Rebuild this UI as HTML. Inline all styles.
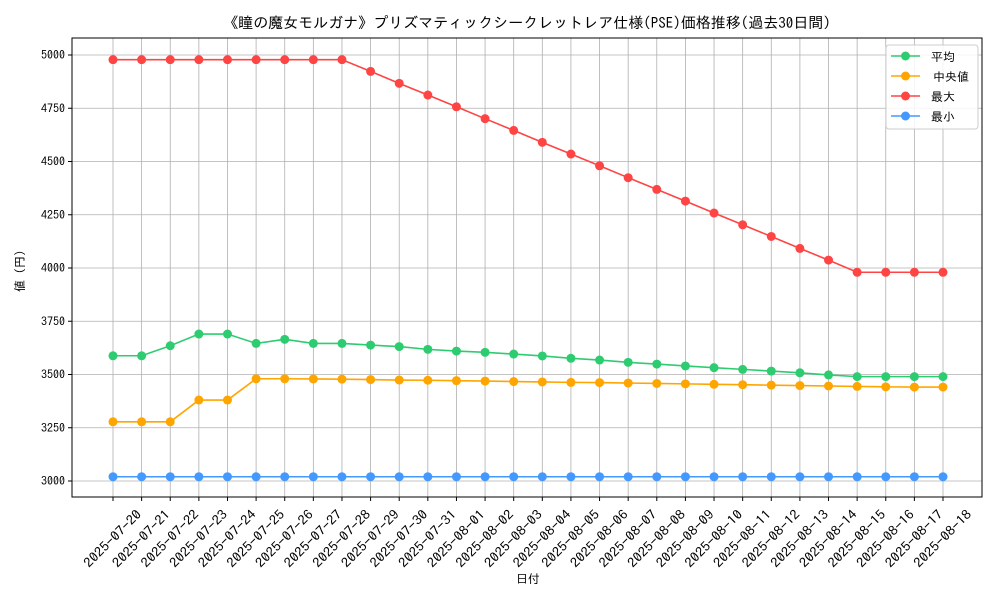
<!DOCTYPE html>
<html><head><meta charset="utf-8"><style>
body{margin:0;background:#fff;}
svg text{font-family:"IPAGothic","Noto Sans CJK JP",sans-serif;fill:#000;}
</style></head><body>
<svg id="chart" width="1000" height="600" xmlns="http://www.w3.org/2000/svg">
<text x="527" y="28" font-size="15" text-anchor="middle">《瞳の魔女モルガナ》プリズマティックシークレットレア仕様(PSE)価格推移(過去30日間)</text>
<g id="grid"></g>
<g id="axes"></g>
<g id="series"></g>
<text x="528" y="583" font-size="12" text-anchor="middle">日付</text>
<text transform="translate(24,268) rotate(-90)" font-size="12" text-anchor="middle">値（円）</text>
<g id="legend"></g>
</svg>
<script>
const dates=[];{const d=new Date(Date.UTC(2025,6,20));for(let i=0;i<30;i++){const t=new Date(d.getTime()+i*864e5);dates.push(t.toISOString().slice(0,10));}}
const meanVals=[3588,3588,3635,3690,3690,3646,3665,3646,3646,3638,3631,3618,3610,3604,3596,3587,3576,3568,3557,3549,3540,3532,3524,3516,3508,3498,3490,3490,3490,3490];
const medianVals=[3278,3278,3278,3380,3380,3480,3480,3479,3478,3476,3474,3473,3471,3469,3467,3465,3463,3462,3460,3458,3456,3454,3452,3450,3448,3446,3444,3442,3441,3441];
const maxVals=[4978,4978,4978,4978,4978,4978,4978,4978,4978,4923,4867,4812,4757,4701,4646,4590,4535,4480,4424,4369,4314,4258,4203,4148,4092,4037,3980,3980,3980,3980];
const minVals=[3020,3020,3020,3020,3020,3020,3020,3020,3020,3020,3020,3020,3020,3020,3020,3020,3020,3020,3020,3020,3020,3020,3020,3020,3020,3020,3020,3020,3020,3020];
const yTicks=[3000,3250,3500,3750,4000,4250,4500,4750,5000];
const seriesNames=["平均","中央値","最大","最小"];
const colors=["#2ecc71","#ffa500","#ff4444","#4499ff"];
const NS="http://www.w3.org/2000/svg";
const L=72,R=982,T=38,B=497;
const x=i=>113+i*(943-113)/(dates.length-1);
const y=v=>481-(v-3000)*(481-55)/2000;
function mk(tag,a,p){const e=document.createElementNS(NS,tag);for(const k in a)e.setAttribute(k,a[k]);p.appendChild(e);return e;}
const grid=document.getElementById('grid'),axes=document.getElementById('axes'),ser=document.getElementById('series'),leg=document.getElementById('legend');
dates.forEach((d,i)=>{const g=mk('line',{x1:x(i),x2:x(i),y1:T,y2:B,stroke:'#b0b0b0','stroke-width':0.8},grid);

mk('line',{x1:x(i),x2:x(i),y1:B,y2:B+4,stroke:'#000'},axes);
const t=mk('text',{transform:`translate(${x(i)},${B+42}) rotate(-45)`,y:4,'font-size':13,'text-anchor':'middle',textLength:75,lengthAdjust:'spacingAndGlyphs'},axes);t.textContent=d;
});
yTicks.forEach(v=>{const g=mk('line',{x1:L,x2:R,y1:y(v),y2:y(v),stroke:'#b0b0b0','stroke-width':0.8},grid);

mk('line',{x1:L-4,x2:L,y1:y(v),y2:y(v),stroke:'#000'},axes);
const t=mk('text',{x:L-7,y:y(v)+4,'font-size':12,'text-anchor':'end'},axes);t.textContent=v;
});
const fr=mk('rect',{x:L,y:T,width:R-L,height:B-T,fill:'none',stroke:'#000','stroke-width':1},axes);

[meanVals,medianVals,maxVals,minVals].forEach((vals,s)=>{
const p=mk('polyline',{points:vals.map((v,i)=>x(i)+','+y(v)).join(' '),fill:'none',stroke:colors[s],'stroke-width':1.6},ser);

vals.forEach((v,i)=>{const c=mk('circle',{cx:x(i),cy:y(v),r:4.5,fill:colors[s]},ser);
});});
const lb=mk('rect',{x:886,y:45,width:92,height:84,rx:3,fill:'#fff','fill-opacity':0.85,stroke:'#ccc'},leg);

seriesNames.forEach((n,s)=>{const yy=56+s*20;
mk('line',{x1:891,x2:920,y1:yy,y2:yy,stroke:colors[s],'stroke-width':1.6},leg);
mk('circle',{cx:905.5,cy:yy,r:4.5,fill:colors[s]},leg);
const t=mk('text',{x:s==1?933:931,y:yy+5,'font-size':12},leg);t.textContent=n;
});
</script>
</body></html>
